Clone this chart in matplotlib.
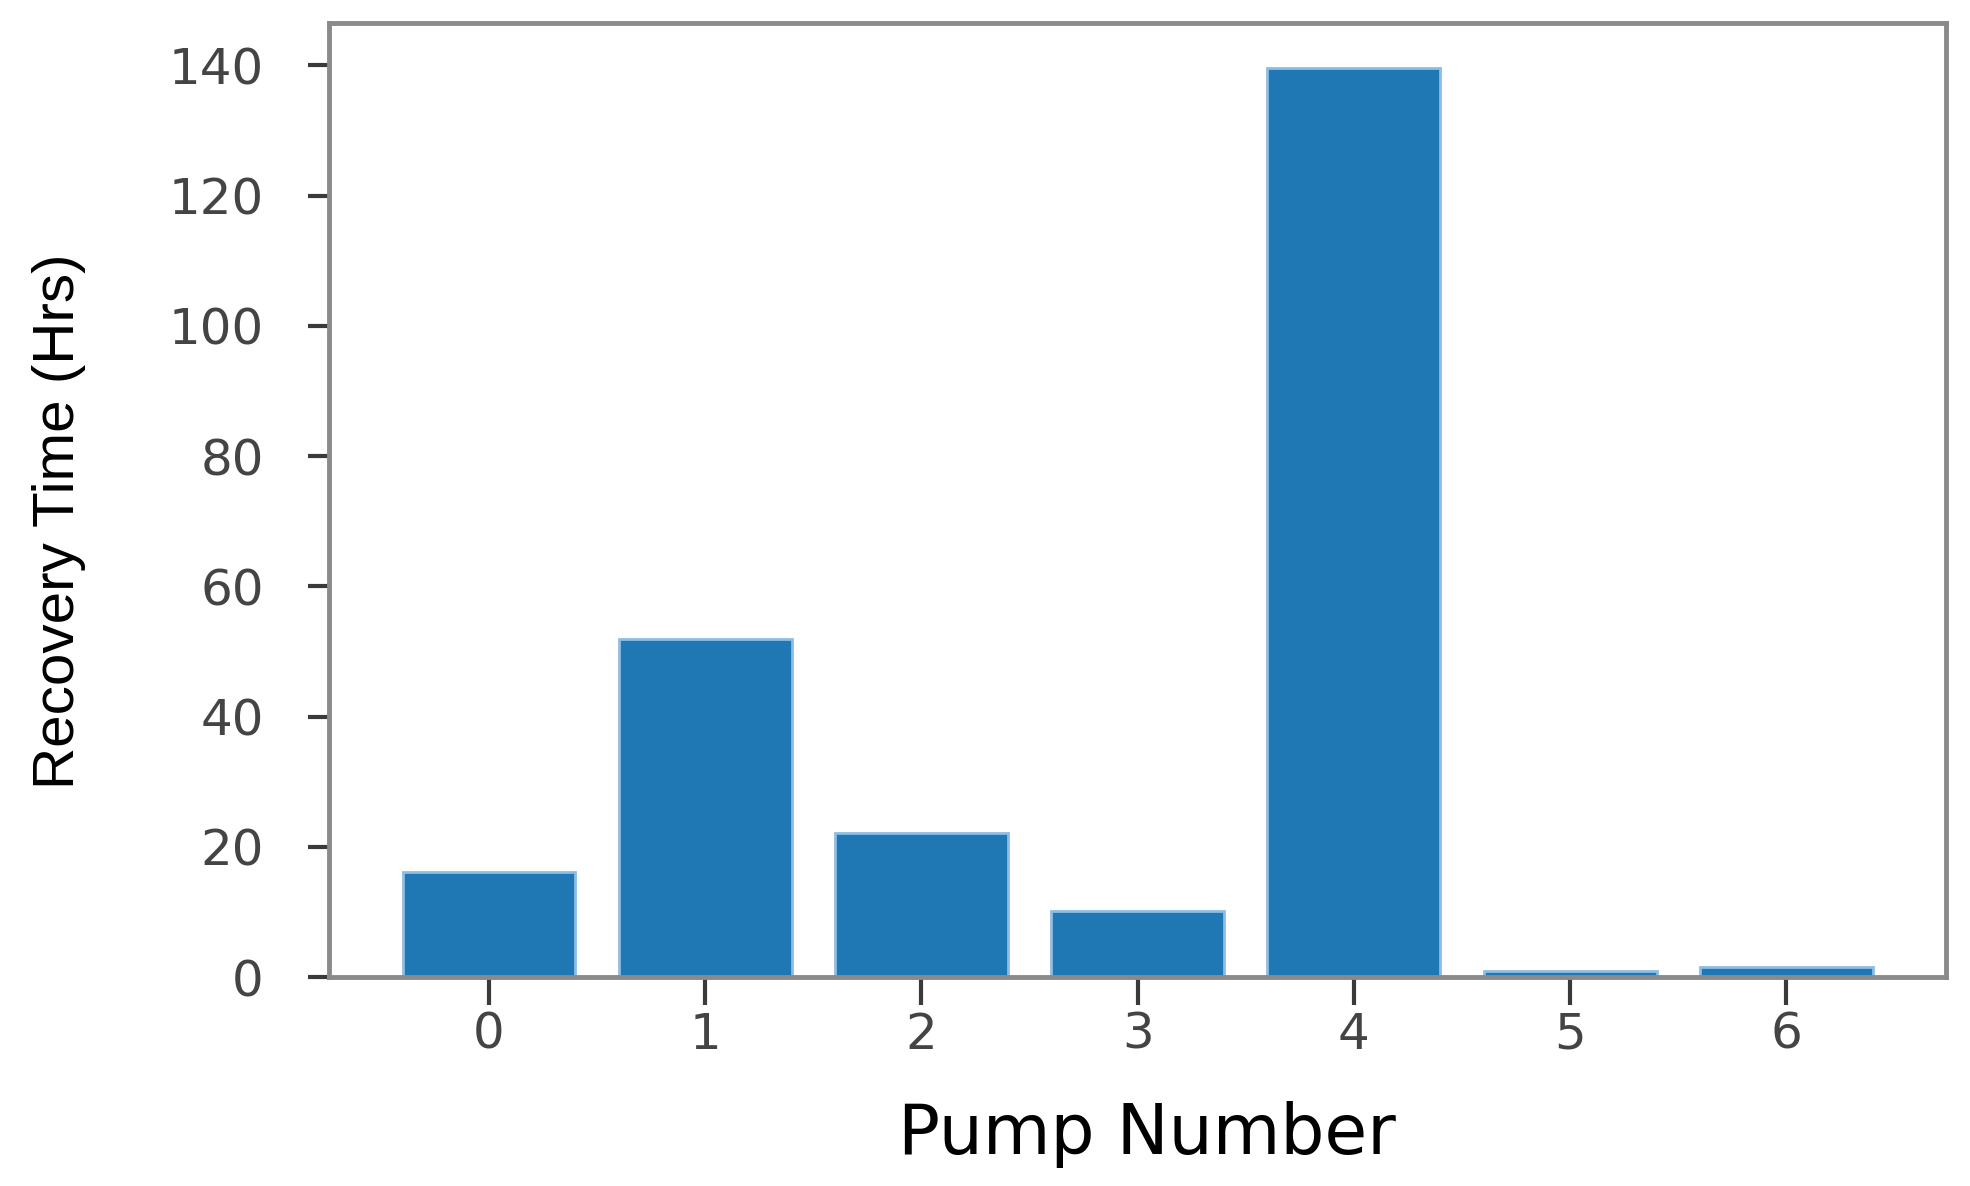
import matplotlib
matplotlib.use('Agg')
import matplotlib.pyplot as plt

# Datos
bombas = [0, 1, 2, 3, 4, 5, 6]
tiempo_recuperacion = [16.2, 52.0, 22.2, 10.1, 139.6, 1.0, 1.5]  # horas

fig = plt.figure(figsize=(19.7, 11.86), dpi=100)
ax = fig.add_axes([0.167, 0.176, 0.821, 0.805])

ax.bar(bombas, tiempo_recuperacion, width=0.8, color='#1f77b4',
       edgecolor='#8dbde3', linewidth=2)

ax.set_xticks(bombas)
ax.set_yticks([0, 20, 40, 60, 80, 100, 120, 140])
ax.tick_params(axis='both', labelsize=36, colors='#3a3a3a', width=3,
               labelcolor='#444444')
ax.tick_params(axis='x', length=20, pad=4)
ax.tick_params(axis='y', length=15, pad=32)

for s in ax.spines.values():
    s.set_color('#8a8a8a')
    s.set_linewidth(3.5)

ax.set_ylabel('Recovery Time (Hrs)', fontsize=42,
              family=['Liberation Sans', 'DejaVu Sans'])
ax.yaxis.set_label_coords(-0.150, 0.478)
ax.set_xlabel('Pump Number', fontsize=50, family=['DejaVu Sans'])
ax.xaxis.set_label_coords(0.506, -0.13)

plt.savefig('out.png', dpi=100)
